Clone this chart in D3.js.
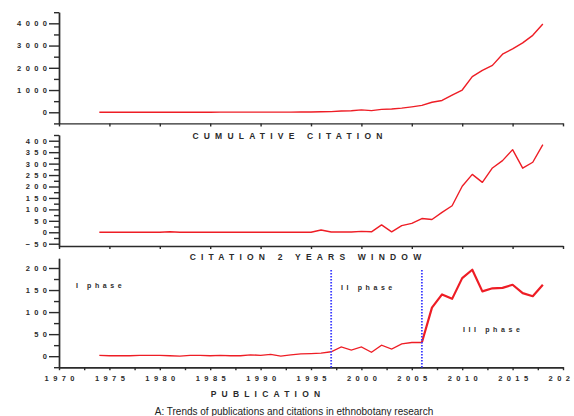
<!DOCTYPE html>
<html>
<head>
<meta charset="utf-8">
<script src="https://cdn.jsdelivr.net/npm/d3@7"></script>
<style>
  body { margin: 0; background: #fff; }
  svg text { font-family: Arial, "Liberation Sans", sans-serif; }
</style>
</head>
<body>
<div id="chart"></div>
<script>
// data
const years = [1974, 1975, 1976, 1977, 1978, 1979, 1980, 1981, 1982, 1983, 1984, 1985, 1986, 1987, 1988,
    1989, 1990, 1991, 1992, 1993, 1994, 1995, 1996, 1997, 1998, 1999, 2000, 2001, 2002, 2003, 2004,
    2005, 2006, 2007, 2008, 2009, 2010, 2011, 2012, 2013, 2014, 2015, 2016, 2017, 2018];

const cumulativeCitation = [0, 0, 0, 0, 0, 0, 0, 2, 3, 3, 3, 3, 5, 5, 5,
    5, 5, 8, 8, 8, 10, 15, 25, 30, 55, 70, 110, 75, 130, 150, 185,
    245, 310, 450, 530, 770, 1000, 1600, 1880, 2110, 2610, 2850, 3120, 3460, 3970];

const citation2yr = [0, 0, 0, 0, 0, 0, 0, 2, 0, 0, 0, 0, 0, 0, 0,
    0, 0, 0, 0, 0, 0, 0, 10, 1, 1, 1, 4, 2, 32, 2, 29,
    39, 60, 56, 87, 116, 201, 253, 218, 281, 313, 361, 280, 306, 383];

const publications = [2, 1, 1, 1, 2, 2, 2, 1, 0, 2, 2, 1, 2, 1, 1,
    3, 2, 4, 0, 3, 5, 6, 7, 10, 21, 14, 21, 9, 25, 16, 28,
    31, 31, 110, 140, 130, 177, 196, 147, 154, 155, 162, 143, 136, 162];

const xTicks = [1970, 1975, 1980, 1985, 1990, 1995, 2000, 2005, 2010, 2015, 2020];
const xMinorTicks = [1972.5, 1977.5, 1982.5, 1987.5, 1992.5, 1997.5, 2002.5, 2007.5, 2012.5, 2017.5];

const cumTicks = [0, 1000, 2000, 3000, 4000];
const cumMinor = [-500, 500, 1500, 2500, 3500, 4500];
const winTicks = [-50, 0, 50, 100, 150, 200, 250, 300, 350, 400];
const winMinor = [-25, 25, 75, 125, 175, 225, 275, 325, 375, 425];
const pubTicks = [0, 50, 100, 150, 200];
const pubMinor = [-25, 25, 75, 125, 175];

const phaseBreaks = [1997, 2006];
const phaseLabels = ["I phase", "II phase", "III phase"];

const w = 574, h = 416;
const RED = "#ee1d25";
const INK = "#2b2b2b";

const svg = d3.select("#chart").append("svg").attr("width", w).attr("height", h);

const x = d3.scaleLinear().domain([1970, 2020]).range([59, 563]);
const fmt = d3.format("d");

const panels = [
    { data: cumulativeCitation, domain: [-500, 4500], range: [123.4, 12.2], ticks: cumTicks, minor: cumMinor,
      title: "CUMULATIVE CITATION", titleY: 139.3 },
    { data: citation2yr, domain: [-60, 425], range: [246, 135], ticks: winTicks, minor: winMinor,
      title: "CITATION 2 YEARS WINDOW", titleY: 259.5 },
    { data: publications, domain: [-25, 222], range: [367.2, 258.3], ticks: pubTicks, minor: pubMinor,
      title: "PUBLICATION", titleY: 396.7 }
];

function styleAxis(g) {
    g.selectAll("path, line").attr("stroke", INK).attr("stroke-width", 1.4);
    g.selectAll("text")
        .attr("fill", INK)
        .style("font-size", "7.5px")
        .style("font-weight", "bold")
        .attr("letter-spacing", "4.4px");
}

panels.forEach((p, pi) => {
    const y = d3.scaleLinear().domain(p.domain).range(p.range);
    const bottom = p.range[0];

    // y axis, minor then major
    svg.append("g").attr("transform", "translate(59,0)")
        .call(d3.axisLeft(y).tickValues(p.minor).tickSize(5).tickSizeOuter(0).tickFormat(""))
        .call(styleAxis);
    const ya = svg.append("g").attr("transform", "translate(59,0)")
        .call(d3.axisLeft(y).tickValues(p.ticks).tickSize(10).tickSizeOuter(0).tickPadding(2).tickFormat(fmt))
        .call(styleAxis);
    ya.selectAll("text").attr("dx", "4.4px");

    // x axis
    const xg = svg.append("g").attr("transform", "translate(0," + bottom + ")");
    if (pi === 2) {
        xg.call(d3.axisBottom(x).tickValues(xTicks).tickSize(3).tickSizeOuter(0).tickPadding(5).tickFormat(fmt))
            .call(styleAxis);
        xg.selectAll("text").attr("dx", "2.2px");
        svg.append("g").attr("transform", "translate(0," + bottom + ")")
            .call(d3.axisBottom(x).tickValues(xMinorTicks).tickSize(3).tickSizeOuter(0).tickFormat(""))
            .call(styleAxis);
    } else {
        xg.call(d3.axisBottom(x).tickValues(xTicks).tickSize(3).tickSizeOuter(0).tickFormat(""))
            .call(styleAxis);
    }

    // the series
    const pts = years.map((yr, i) => [yr, p.data[i]]);
    const line = d3.line().x(d => x(d[0])).y(d => y(d[1]));
    if (pi === 2) {
        const cut = years.indexOf(phaseBreaks[1]);
        svg.append("path").datum(pts.slice(0, cut + 1)).attr("d", line)
            .attr("fill", "none").attr("stroke", RED).attr("stroke-width", 1.3);
        svg.append("path").datum(pts.slice(cut)).attr("d", line)
            .attr("fill", "none").attr("stroke", RED).attr("stroke-width", 2.2)
            .attr("stroke-linejoin", "round");

        // phase separators
        svg.selectAll(".phase").data(phaseBreaks).enter().append("line")
            .attr("x1", d => x(d)).attr("x2", d => x(d))
            .attr("y1", 270).attr("y2", 368)
            .attr("stroke", "#3b3bff").attr("stroke-width", 1.8)
            .attr("stroke-dasharray", "1.5,1.5");

        const phasePos = [[76, 287.5], [341, 290.3], [463, 332.3]];
        phaseLabels.forEach((t, i) => {
            svg.append("text").attr("x", phasePos[i][0]).attr("y", phasePos[i][1])
                .attr("fill", INK).style("font-size", "7px").style("font-weight", "bold")
                .attr("letter-spacing", "3.6px").text(t);
        });
    } else {
        svg.append("path").datum(pts).attr("d", line)
            .attr("fill", "none").attr("stroke", RED).attr("stroke-width", 1.4)
            .attr("stroke-linejoin", "round");
    }

    // panel title
    svg.append("text")
        .attr("x", pi === 0 ? 290 : pi === 1 ? 308 : 268).attr("y", p.titleY)
        .attr("text-anchor", "middle").attr("fill", INK)
        .style("font-size", "8.5px").style("font-weight", "bold")
        .attr("letter-spacing", "5.2px")
        .text(p.title);
});

svg.append("text")
    .attr("x", 294).attr("y", 415)
    .attr("text-anchor", "middle").attr("fill", "#222")
    .style("font-size", "10px")
    .text("A: Trends of publications and citations in ethnobotany research");
</script>
</body>
</html>
